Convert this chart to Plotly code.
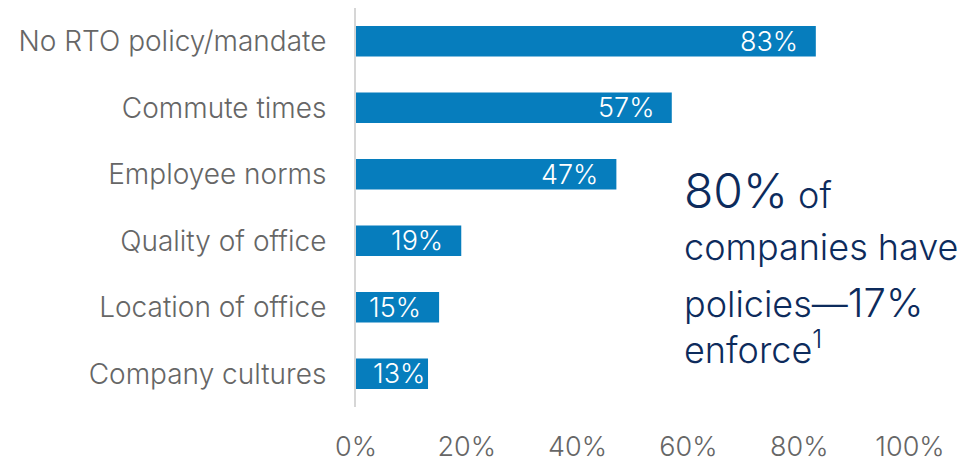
import plotly.graph_objects as go

categories = ["No RTO policy/mandate", "Commute times", "Employee norms",
              "Quality of office", "Location of office", "Company cultures"]
values = [83, 57, 47, 19, 15, 13]
tick_vals = [0, 20, 40, 60, 80, 100]
tick_text = ["0%", "20%", "40%", "60%", "80%", "100%"]

BAR = "#067dbd"
GRAY = "#666666"
NAVY = "#0d2b5c"
FONT = "Inter"

PL, PR, PT, PB = 356, 910, 8, 407  # plot area in pixels

fig = go.Figure(go.Bar(
    x=values, y=categories, orientation="h",
    marker=dict(color=BAR, line=dict(width=0)),
    width=0.46, hoverinfo="skip",
))

for c, v in zip(categories, values):
    if v < 14:
        fig.add_annotation(x=0, y=c, xref="x", yref="y", text=f"{v}%",
                           xanchor="left", xshift=15, showarrow=False,
                           font=dict(family=FONT, size=27, color="white", weight=300))
    else:
        fig.add_annotation(x=v, y=c, xref="x", yref="y", text=f"{v}%",
                           xanchor="right", xshift=-16, showarrow=False,
                           font=dict(family=FONT, size=27, color="white", weight=300))

# side callout (pixel centre of each line)
callout = [
    (190, "<span style='font-size:48px'>80%</span> of"),
    (247, "companies have"),
    (302, "policies—<span style='font-size:40px'>17%</span>"),
    (348, "enforce<sup>1</sup>"),
]
for cy, txt in callout:
    fig.add_annotation(x=(682 - PL) / (PR - PL), y=(PB - cy) / (PB - PT),
                       xref="paper", yref="paper", text=txt,
                       showarrow=False, xanchor="left", yanchor="middle",
                       font=dict(family=FONT, size=36, color=NAVY, weight=300))

fig.update_layout(
    width=964, height=462,
    margin=dict(l=PL, r=964 - PR, t=PT, b=462 - PB, autoexpand=False),
    paper_bgcolor="white", plot_bgcolor="white",
    showlegend=False, bargap=0.54,
    font=dict(family=FONT, color=GRAY, weight=300),
)
fig.update_xaxes(range=[0, 100], tickvals=tick_vals, ticktext=tick_text,
                 showgrid=False, zeroline=False, showline=False, automargin=False,
                 tickfont=dict(family=FONT, size=27, color=GRAY, weight=300),
                 ticks="outside", ticklen=0, ticklabelstandoff=16, fixedrange=True)
fig.update_yaxes(autorange="reversed", showgrid=False, zeroline=False, automargin=False,
                 showline=True, linecolor="#d6d6d6", linewidth=2,
                 tickfont=dict(family=FONT, size=28, color=GRAY, weight=300),
                 ticks="outside", ticklen=0, ticklabelstandoff=22, fixedrange=True)

fig.write_html("out.html", config={"displayModeBar": False})
